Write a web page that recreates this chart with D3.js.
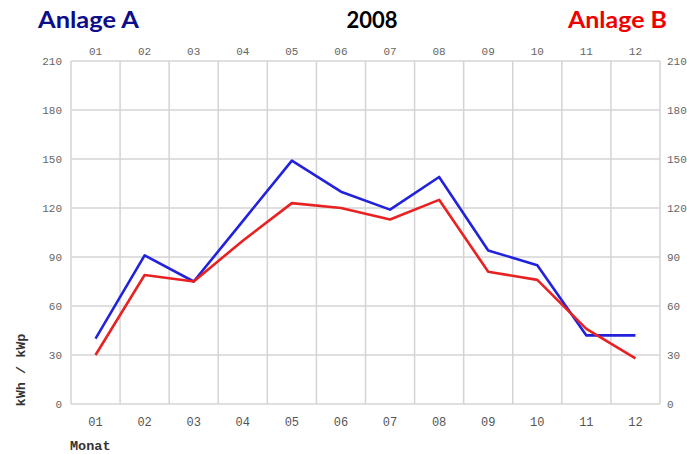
<!DOCTYPE html>
<html><head><meta charset="utf-8">
<script src="https://cdn.jsdelivr.net/npm/d3@7"></script>
<style>body{margin:0;background:#fff}svg{display:block}</style>
</head><body>
<svg id="c" width="687" height="454"></svg>
<script>
const months = ["01","02","03","04","05","06","07","08","09","10","11","12"];
const anlageA = [40, 91, 75, 112, 149, 130, 119, 139, 94, 85, 42, 42];
const anlageB = [30, 79, 75, 100, 123, 120, 113, 125, 81, 76, 46, 28];
const yTicks = [0, 30, 60, 90, 120, 150, 180, 210];

const svg = d3.select("#c");
const L = 71, R = 660, T = 61, B = 404;
const x = d3.scaleBand().domain(months).range([L, R]);
const y = d3.scaleLinear().domain([0, 210]).range([B, T]);

// grid
const g = svg.append("g");
g.selectAll("line.h").data(yTicks).join("line")
  .attr("x1", L).attr("x2", R).attr("y1", d => y(d)).attr("y2", d => y(d))
  .attr("stroke", "#d4d4d4").attr("stroke-width", 1.5);
const vx = months.map(m => x(m)).concat([R]);
g.selectAll("line.v").data(vx).join("line")
  .attr("x1", d => d).attr("x2", d => d).attr("y1", T).attr("y2", B)
  .attr("stroke", "#d4d4d4").attr("stroke-width", 1.5);

const tf = "'Liberation Mono', 'DejaVu Sans Mono', monospace";
// left axis labels
svg.append("g").selectAll("text").data(yTicks).join("text")
  .attr("x", 62).attr("y", d => y(d) + 4).attr("text-anchor", "end")
  .attr("font-family", tf).attr("font-size", 11).attr("fill", "#666").text(d => d);
// right axis labels
svg.append("g").selectAll("text").data(yTicks).join("text")
  .attr("x", 667).attr("y", d => y(d) + 4).attr("text-anchor", "start")
  .attr("font-family", tf).attr("font-size", 11).attr("fill", "#666").text(d => d);
// top month labels
svg.append("g").selectAll("text").data(months).join("text")
  .attr("x", d => x(d) + x.bandwidth() / 2).attr("y", 55).attr("text-anchor", "middle")
  .attr("font-family", tf).attr("font-size", 11).attr("fill", "#666").text(d => d);
// bottom month labels
svg.append("g").selectAll("text").data(months).join("text")
  .attr("x", d => x(d) + x.bandwidth() / 2).attr("y", 426).attr("text-anchor", "middle")
  .attr("font-family", tf).attr("font-size", 12).attr("fill", "#555").text(d => d);

svg.append("text").attr("x", 70).attr("y", 450)
  .attr("font-family", tf).attr("font-size", 13.5).attr("font-weight", "bold").attr("fill", "#333").text("Monat");
svg.append("text").attr("transform", "translate(25,370) rotate(-90)").attr("text-anchor", "middle")
  .attr("font-family", tf).attr("font-size", 13.5).attr("font-weight", "bold").attr("fill", "#333").text("kWh / kWp");

// lines
const line = d3.line().x((d, i) => x(months[i]) + x.bandwidth() / 2).y(d => y(d));
svg.append("path").datum(anlageA).attr("d", line).attr("fill", "none")
  .attr("stroke", "#2222dd").attr("stroke-width", 2.6).attr("stroke-linejoin", "round");
svg.append("path").datum(anlageB).attr("d", line).attr("fill", "none")
  .attr("stroke", "#e82222").attr("stroke-width", 2.6).attr("stroke-linejoin", "round");

// titles
const hf = "Lato, 'Open Sans', sans-serif";
svg.append("text").attr("x", 38).attr("y", 28).attr("font-family", hf).attr("font-size", 23)
  .attr("font-weight", "bold").attr("fill", "#0d0d8a")
  .attr("textLength", 101).attr("lengthAdjust", "spacingAndGlyphs").text("Anlage A");
svg.append("text").attr("x", 372).attr("y", 28).attr("text-anchor", "middle").attr("font-family", hf).attr("font-size", 22)
  .attr("font-weight", "bold").attr("fill", "#000").text("2008");
svg.append("text").attr("x", 568).attr("y", 28).attr("font-family", hf).attr("font-size", 23)
  .attr("font-weight", "bold").attr("fill", "#ee0000")
  .attr("textLength", 99).attr("lengthAdjust", "spacingAndGlyphs").text("Anlage B");
</script>
</body></html>
